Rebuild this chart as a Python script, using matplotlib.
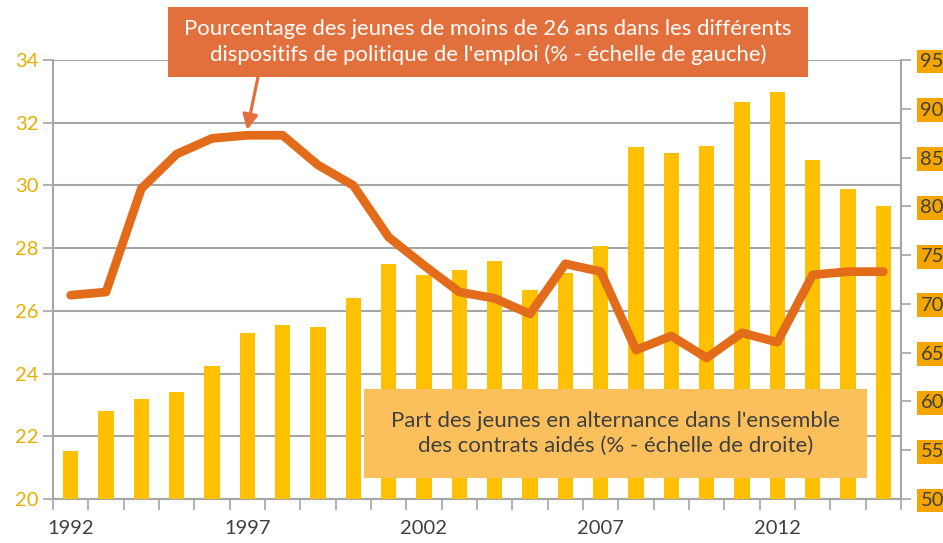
import matplotlib
matplotlib.use("Agg")
import matplotlib.pyplot as plt
from matplotlib.patches import Rectangle

plt.rcParams['font.family'] = ['Lato', 'DejaVu Sans']

# données
annees = list(range(1992, 2016))
jeunes_politique = [26.5, 26.6, 29.9, 31.0, 31.5, 31.6, 31.6, 30.65, 30.0, 28.35, 27.45, 26.6,
                    26.4, 25.9, 27.5, 27.25, 24.75, 25.2, 24.5, 25.3, 25.0, 27.15, 27.25, 27.25]
part_alternance = [54.9, 59.0, 60.3, 61.0, 63.6, 67.0, 67.8, 67.6, 70.6, 74.1, 73.0, 73.5,
                   74.4, 71.4, 73.2, 75.9, 86.1, 85.5, 86.2, 90.7, 91.7, 84.7, 81.8, 80.0]
annees_affichees = [1992, 1997, 2002, 2007, 2012]

texte_haut = ("Pourcentage des jeunes de moins de 26 ans dans les différents\n"
              "dispositifs de politique de l'emploi (% - échelle de gauche)")
texte_bas = ("Part des jeunes en alternance dans l'ensemble\n"
             "des contrats aidés (% - échelle de droite)")

W, H = 943, 543
gris = '#A6A6A6'
x = list(range(len(annees)))

fig = plt.figure(figsize=(W / 100, H / 100), dpi=100)
ax = fig.add_axes([53 / W, 44 / H, 848 / W, 439 / H])
ax_b = ax.twinx()
ax_l = ax.twinx()
ax.set_zorder(0)
ax_b.set_zorder(1)
ax_l.set_zorder(2)
ax_b.patch.set_visible(False)
ax_l.patch.set_visible(False)

# axe de gauche + grille
ax.set_ylim(20, 34)
ax.set_yticks(range(20, 35, 2))
ax.yaxis.grid(True, color=gris, lw=1.5)
ax.set_axisbelow(True)
ax.tick_params(axis='y', colors=gris, labelcolor='#E6B000', labelsize=14.5, length=7, width=1.2)
ax.set_xlim(-0.5, len(annees) - 0.5)
ax.set_xticks([i - 0.5 for i in range(len(annees) + 1)])
ax.set_xticklabels([])
ax.set_xticks([annees.index(a) for a in annees_affichees], minor=True)
ax.set_xticklabels([str(a) for a in annees_affichees], minor=True)
ax.tick_params(axis='x', which='major', colors=gris, length=8, width=1.2)
ax.tick_params(axis='x', which='minor', length=0, labelsize=14.5, labelcolor='#404040', pad=15)
for s in ['top', 'right']:
    ax.spines[s].set_visible(False)
for s in ['left', 'bottom']:
    ax.spines[s].set_color(gris)
    ax.spines[s].set_linewidth(1.5)

# barres, échelle de droite
ax_b.bar(x, part_alternance, width=0.43, color='#FFC000', zorder=2)
ax_b.set_ylim(50, 95)
ax_b.set_yticks(range(50, 96, 5))
ax_b.tick_params(axis='y', colors=gris, labelcolor='#404040', labelsize=14.5, length=7, width=1.2, pad=7)
for lbl in ax_b.get_yticklabels():
    lbl.set_bbox(dict(facecolor='#F5A500', edgecolor='none', pad=2.5))
for s in ['top', 'left', 'bottom']:
    ax_b.spines[s].set_visible(False)
ax_b.spines['right'].set_color(gris)
ax_b.spines['right'].set_linewidth(1.5)

# courbe, échelle de gauche
ax_l.plot(x, jeunes_politique, color='#E36C1A', lw=6.3, solid_joinstyle='round', solid_capstyle='round')
ax_l.set_ylim(20, 34)
ax_l.axis('off')

# encadré du haut
fig.add_artist(Rectangle((168 / W, 1 - 77 / H), 640 / W, 70 / H, transform=fig.transFigure,
                         facecolor='#E2703D', edgecolor='none', zorder=5))
fig.text(488 / W, 1 - 42 / H, texte_haut, ha='center', va='center', color='white',
         fontsize=15.9, linespacing=1.3, zorder=6)
ax_l.annotate('', xy=(4.99, 31.77), xycoords='data',
              xytext=(258 / W, 1 - 77 / H), textcoords='figure fraction',
              arrowprops=dict(arrowstyle='-|>,head_length=0.9,head_width=0.45', color='#E2703D',
                              lw=2.3, shrinkA=0, shrinkB=0))

# encadré du bas
fig.add_artist(Rectangle((364 / W, 1 - 478 / H), 503 / W, 89 / H, transform=fig.transFigure,
                         facecolor='#FBBF5C', edgecolor='none', zorder=5))
fig.text(615.5 / W, 1 - 433.5 / H, texte_bas, ha='center', va='center', color='#404040',
         fontsize=16, linespacing=1.35, zorder=6)

fig.savefig('out.png', dpi=100)
